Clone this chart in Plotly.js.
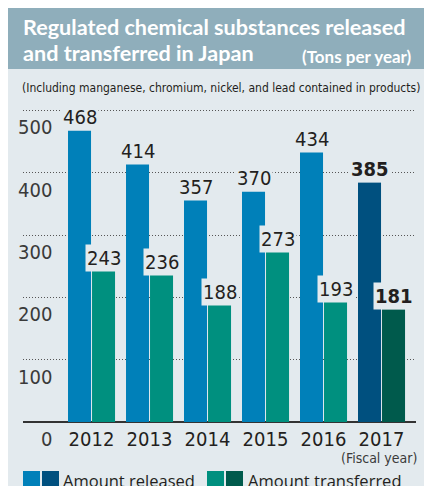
<!DOCTYPE html>
<html>
<head>
<meta charset="utf-8">
<script src="https://cdn.plot.ly/plotly-3.0.1.min.js"></script>
<style>
html,body{margin:0;padding:0;background:#fff;}
#chart{width:424px;height:486px;}
</style>
</head>
<body>
<div id="chart"></div>
<script>
// ---- data ----
const years = ['2012', '2013', '2014', '2015', '2016', '2017'];
const released = [468, 414, 357, 370, 434, 385];
const transferred = [243, 236, 188, 273, 193, 181];
const yTicks = [0, 100, 200, 300, 400, 500];
const titleLine1 = 'Regulated chemical substances released';
const titleLine2 = 'and transferred in Japan';
const unitText = '(Tons per year)';
const subtitle = '(Including manganese, chromium, nickel, and lead contained in products)';
const fiscalText = '(Fiscal year)';
const legendReleased = 'Amount released';
const legendTransferred = 'Amount transferred';

// ---- styles ----
const C_REL = '#0080b9', C_REL_LAST = '#00507f';
const C_TRA = '#00907f', C_TRA_LAST = '#005a4c';
const BG = '#e3eaee', BAND = '#8faebb', INK = '#231f20';
const NARROW = '"DejaVu Sans Condensed", "Liberation Sans Narrow", sans-serif';
const SANS = '"Open Sans", "Noto Sans", sans-serif';
const TITLEF = 'Lato, "Open Sans", sans-serif';

// plot area in px
const L = 23, R = 416, T = 105, B = 422, W = 424, H = 486;
const px2x = p => (p - L) / (R - L);
const px2y = p => (B - p) / (B - T);

const xs = years.map((_, i) => i);
const BW = 0.397, OFF_R = -0.405, OFF_T = 0.009;
const lastIdx = years.length - 1;

const traces = [
  {type: 'bar', x: xs, y: released, width: BW, offset: OFF_R,
   marker: {color: xs.map(i => i === lastIdx ? C_REL_LAST : C_REL), line: {width: 0}},
   hoverinfo: 'skip', showlegend: false},
  {type: 'bar', x: xs, y: transferred, width: BW, offset: OFF_T,
   marker: {color: xs.map(i => i === lastIdx ? C_TRA_LAST : C_TRA), line: {width: 0}},
   hoverinfo: 'skip', showlegend: false}
];

const annotations = [];
// value labels
function addVal(arr, off) {
  arr.forEach((v, i) => {
    annotations.push({
      xref: 'x', yref: 'y', x: i + off + BW / 2, y: v, yanchor: 'bottom', xanchor: 'center',
      text: i === lastIdx ? '<b>' + v + '</b>' : String(v), showarrow: false,
      font: {family: NARROW, size: 20, color: INK},
      bgcolor: BG, borderpad: 1, yshift: -1
    });
  });
}
addVal(released, OFF_R);
addVal(transferred, OFF_T);
// y tick labels (below gridlines)
yTicks.forEach(v => {
  annotations.push({
    xref: 'paper', yref: 'y', x: px2x(54), y: v, xanchor: 'right', yanchor: 'middle',
    yshift: -17, text: String(v), showarrow: false,
    font: {family: NARROW, size: 20, color: '#3a3a3a'}
  });
});
// titles
annotations.push({xref: 'paper', yref: 'paper', x: px2x(21), y: px2y(27), xanchor: 'left', yanchor: 'middle',
  text: '<b>' + titleLine1 + '</b>', showarrow: false, font: {family: TITLEF, size: 21.6, color: '#fff'}});
annotations.push({xref: 'paper', yref: 'paper', x: px2x(21), y: px2y(53), xanchor: 'left', yanchor: 'middle',
  text: '<b>' + titleLine2 + '</b>', showarrow: false, font: {family: TITLEF, size: 21.6, color: '#fff'}});
annotations.push({xref: 'paper', yref: 'paper', x: px2x(414), y: px2y(56), xanchor: 'right', yanchor: 'middle',
  text: '<b>' + unitText + '</b>', showarrow: false, font: {family: TITLEF, size: 17, color: '#fff'}});
annotations.push({xref: 'paper', yref: 'paper', x: px2x(20), y: px2y(88), xanchor: 'left', yanchor: 'middle',
  text: subtitle, showarrow: false, font: {family: NARROW, size: 12, color: INK}});
annotations.push({xref: 'paper', yref: 'paper', x: px2x(419), y: px2y(458), xanchor: 'right', yanchor: 'middle',
  text: fiscalText, showarrow: false, font: {family: NARROW, size: 14, color: '#3a3a3a'}});
// legend text
annotations.push({xref: 'paper', yref: 'paper', x: px2x(61), y: px2y(480), xanchor: 'left', yanchor: 'middle',
  text: legendReleased, showarrow: false, font: {family: SANS, size: 16.5, color: INK}});
annotations.push({xref: 'paper', yref: 'paper', x: px2x(246), y: px2y(480), xanchor: 'left', yanchor: 'middle',
  text: legendTransferred, showarrow: false, font: {family: SANS, size: 16.5, color: INK}});

function rect(x0, y0, x1, y1, color) {
  return {type: 'rect', xref: 'paper', yref: 'paper', x0: px2x(x0), x1: px2x(x1), y0: px2y(y1), y1: px2y(y0),
    fillcolor: color, line: {width: 0}, layer: 'below'};
}
const shapes = [
  rect(0, 0, 8, H + 5, '#ffffff'),
  rect(0, 0, W + 5, 8, '#ffffff'),
  rect(8, 8, W + 5, 69, BAND),
  rect(23, 471, 40, H + 5, C_REL),
  rect(42, 471, 59, H + 5, C_REL_LAST),
  rect(207, 471, 224, H + 5, C_TRA),
  rect(226, 471, 243, H + 5, C_TRA_LAST)
];

const layout = {
  width: W, height: H,
  margin: {l: L, r: W - R, t: T, b: H - B, pad: 0},
  paper_bgcolor: BG, plot_bgcolor: BG,
  showlegend: false,
  barmode: 'overlay',
  xaxis: {range: [-1.181, 5.595], tickvals: xs, ticktext: years, ticks: '', showgrid: false,
    zeroline: false, showline: false, fixedrange: true,
    tickfont: {family: NARROW, size: 20, color: INK}, ticklabelstandoff: 3},
  yaxis: {range: [0, 508.8], tickvals: yTicks.filter(v => v > 0), showticklabels: false, ticks: '',
    showgrid: true, gridcolor: '#555', gridwidth: 1, griddash: '1px,2px',
    zeroline: true, zerolinecolor: '#333', zerolinewidth: 2, showline: false, fixedrange: true},
  annotations: annotations,
  shapes: shapes
};

Plotly.newPlot('chart', traces, layout, {displayModeBar: false, staticPlot: true});
</script>
</body>
</html>
